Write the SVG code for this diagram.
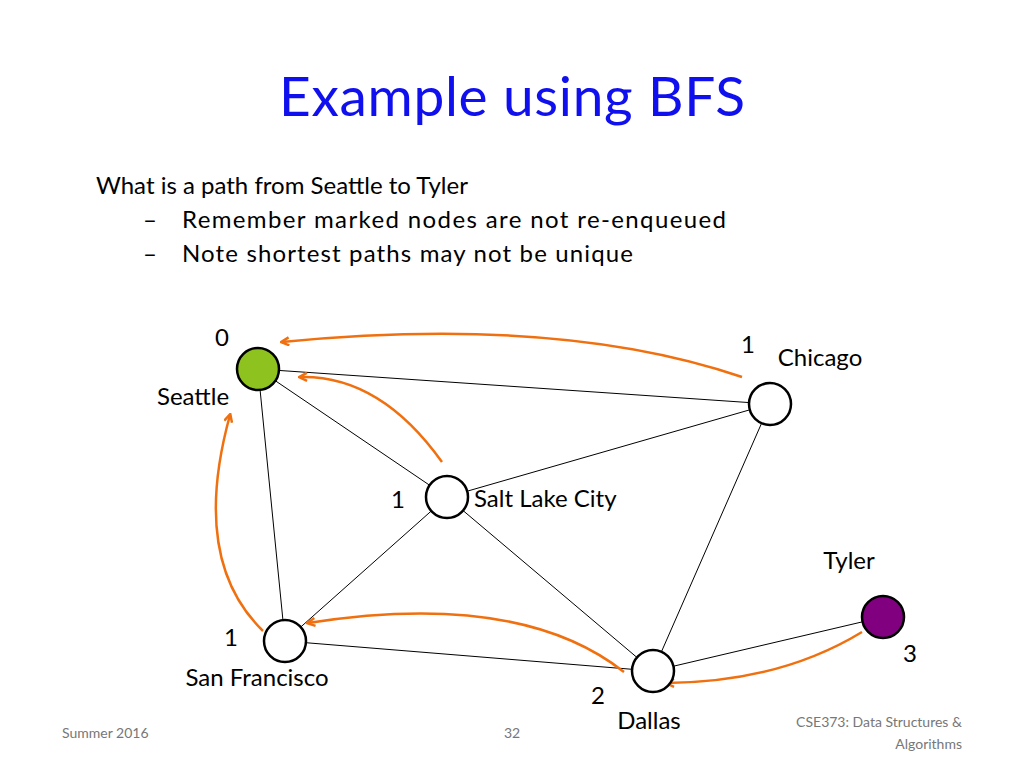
<svg xmlns="http://www.w3.org/2000/svg" width="1024" height="768" viewBox="0 0 1024 768">
<defs>
<marker id="ah" markerWidth="10" markerHeight="10" refX="8" refY="5" orient="auto" markerUnits="userSpaceOnUse"><path d="M1,1 L9,5 L1,9" fill="none" stroke="#F07010" stroke-width="2.5"/></marker>
<style>
text{font-family:Lato,"Liberation Sans",sans-serif;fill:#000}
.e{stroke:#000;stroke-width:1}
.a{fill:none;stroke:#F07010;stroke-width:2.5;marker-end:url(#ah)}
.n{fill:#fff;stroke:#000;stroke-width:2.5}
.l{font-size:24px}
.s{font-size:14px;fill:#777}
</style>
</defs>
<rect width="1024" height="768" fill="#fff"/>
<text x="512" y="116" font-size="55" text-anchor="middle" style="fill:#1010EE" textLength="466">Example using BFS</text>
<text x="96" y="194" font-size="24">What is a path from Seattle to Tyler</text>
<text x="143" y="228" font-size="24">–</text><text x="182" y="228" font-size="24" textLength="544">Remember marked nodes are not re-enqueued</text>
<text x="143" y="262" font-size="24">–</text><text x="182" y="262" font-size="24" textLength="451">Note shortest paths may not be unique</text>
<g id="connectors">
<line class="e" x1="258" y1="369" x2="770" y2="404"/>
<line class="e" x1="258" y1="369" x2="447" y2="497"/>
<line class="e" x1="258" y1="369" x2="285" y2="641"/>
<line class="e" x1="447" y1="497" x2="770" y2="404"/>
<line class="e" x1="447" y1="497" x2="285" y2="641"/>
<line class="e" x1="447" y1="497" x2="653" y2="671"/>
<line class="e" x1="285" y1="641" x2="653" y2="671"/>
<line class="e" x1="770" y1="404" x2="653" y2="671"/>
<line class="e" x1="653" y1="671" x2="883" y2="617"/>
<path class="a" d="M742,377 Q560,315 282,342"/>
<path class="a" d="M442,462 Q380,375 300,377"/>
<path class="a" d="M263,631 Q190,560 230,415"/>
<path class="a" d="M624,672 Q520,590 308,623"/>
<path class="a" d="M862,632 Q780,682 667,683"/>
</g>
<g id="seattle"><circle cx="258" cy="369" r="21" fill="#8DC21F" stroke="#000" stroke-width="2.5"/><text class="l" x="222" y="346" text-anchor="middle">0</text><text class="l" x="193" y="405" text-anchor="middle">Seattle</text></g>
<g id="chicago"><circle class="n" cx="770" cy="404" r="21"/><text class="l" x="748" y="353" text-anchor="middle">1</text><text class="l" x="820" y="366" text-anchor="middle">Chicago</text></g>
<g id="slc"><circle class="n" cx="447" cy="497" r="21"/><text class="l" x="398" y="508" text-anchor="middle">1</text><text class="l" x="474" y="507">Salt Lake City</text></g>
<g id="sf"><circle class="n" cx="285" cy="641" r="21"/><text class="l" x="231" y="646" text-anchor="middle">1</text><text class="l" x="257" y="686" text-anchor="middle">San Francisco</text></g>
<g id="dallas"><circle class="n" cx="653" cy="671" r="21"/><text class="l" x="598" y="704" text-anchor="middle">2</text><text class="l" x="649" y="729" text-anchor="middle">Dallas</text></g>
<g id="tyler"><circle cx="883" cy="617" r="21" fill="#800080" stroke="#000" stroke-width="2.5"/><text class="l" x="849" y="569" text-anchor="middle">Tyler</text><text class="l" x="910" y="662" text-anchor="middle">3</text></g>
<text class="s" x="62" y="738">Summer 2016</text>
<text class="s" x="512" y="738" text-anchor="middle">32</text>
<text class="s" x="962" y="727" text-anchor="end">CSE373: Data Structures &amp;</text>
<text class="s" x="962" y="749" text-anchor="end">Algorithms</text>
</svg>
